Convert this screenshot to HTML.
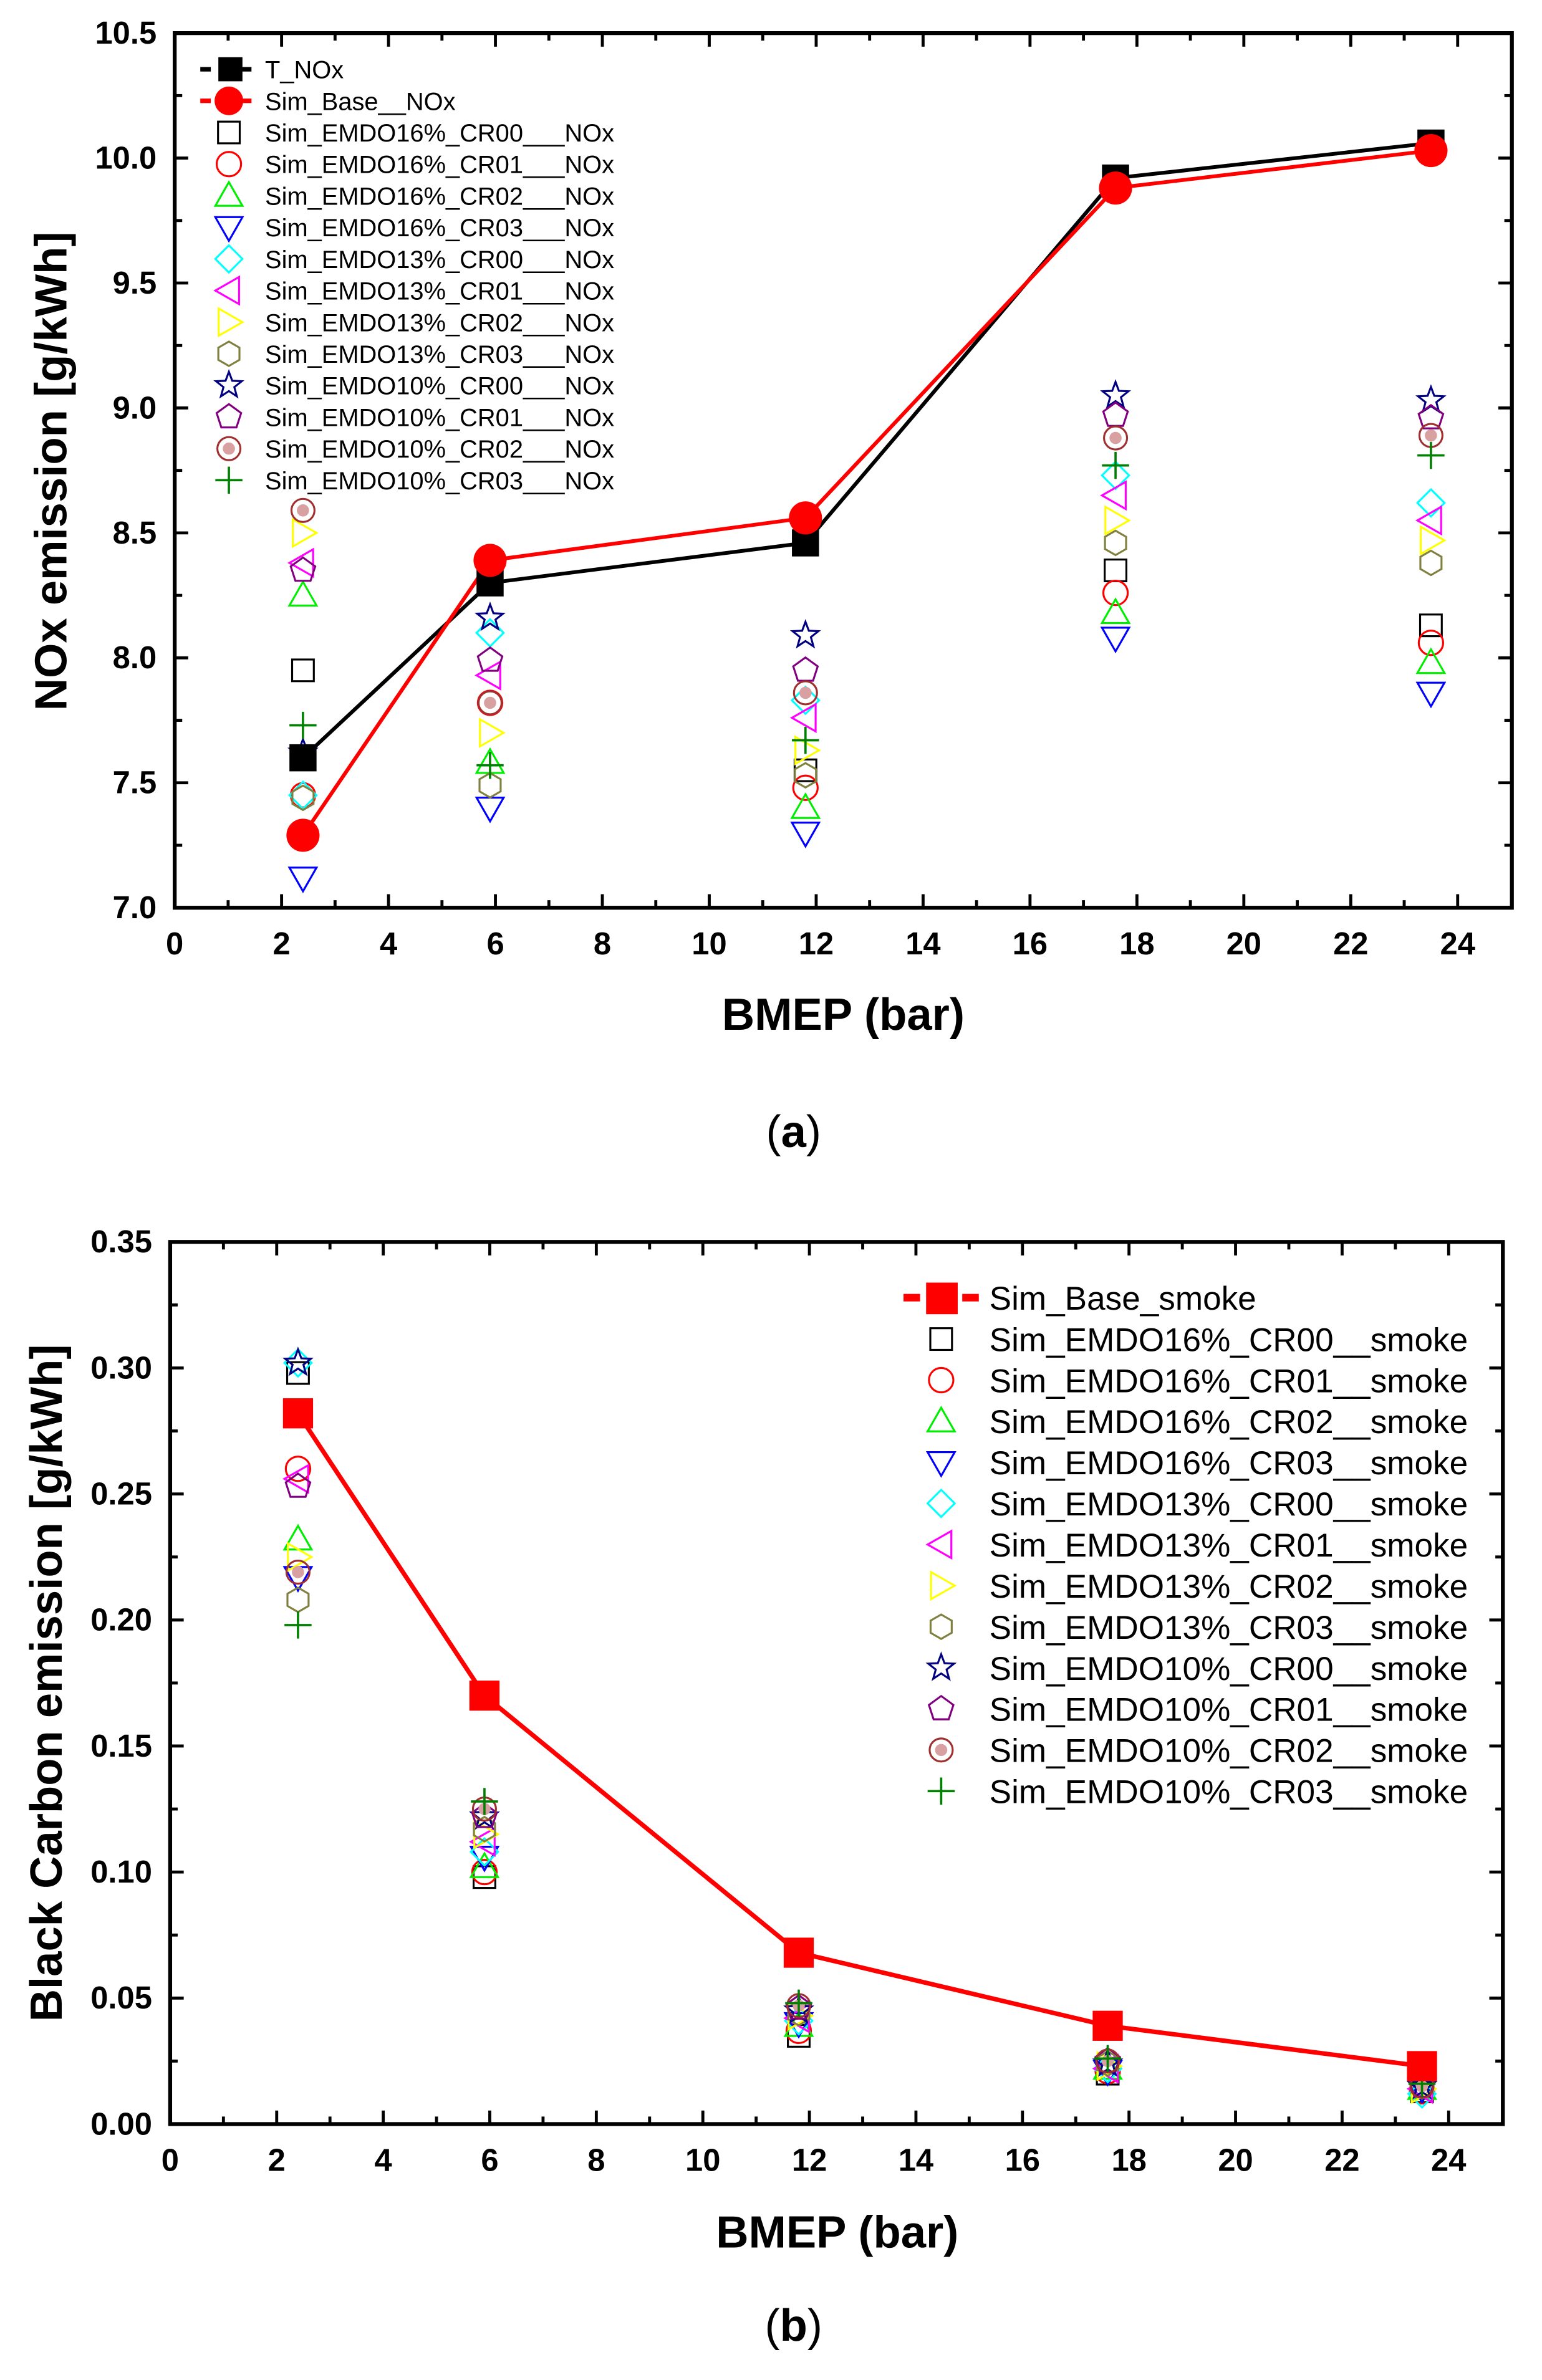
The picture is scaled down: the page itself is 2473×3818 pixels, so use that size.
<!DOCTYPE html>
<html><head><meta charset="utf-8">
<style>
html,body{margin:0;padding:0;background:#fff;}
svg{display:block;}
text{font-family:"Liberation Sans",Arial,sans-serif;}
</style></head>
<body>
<svg id="s" width="2473" height="3818" viewBox="0 0 1024 1581" preserveAspectRatio="none" xmlns="http://www.w3.org/2000/svg">
<rect width="1024" height="1581" fill="#fff"/>
<g id="g"></g>
</svg>
<script>
const NS="http://www.w3.org/2000/svg";
const G=document.getElementById('g');
function el(t,a,txt){const e=document.createElementNS(NS,t);for(const k in a)e.setAttribute(k,a[k]);if(txt!==undefined)e.textContent=txt;G.appendChild(e);return e;}
const COL={sq:'#000',ci:'#ff0000',up:'#00ee00',dn:'#0000ff',di:'#00ffff',lt:'#ff00ff',rt:'#ffff00',hx:'#808040',st:'#000080',pe:'#800080',dc:'#a03030',pl:'#008000'};
const ORDER=['sq','ci','up','dn','di','lt','rt','hx','st','pe','dc','pl'];
function marker(type,x,y,r,c,fill){
  r=r||9;const sw=1.3;const f=fill||'none';
  if(type==='sq'){el('rect',{x:x-r*0.8,y:y-r*0.8,width:r*1.6,height:r*1.6,fill:f,stroke:c,'stroke-width':sw});}
  else if(type==='ci'){el('circle',{cx:x,cy:y,r:r*0.9,fill:f,stroke:c,'stroke-width':sw});}
  else if(type==='dc'){el('circle',{cx:x,cy:y,r:r*0.85,fill:'none',stroke:c,'stroke-width':sw});el('circle',{cx:x,cy:y,r:r*0.45,fill:'#d8a0a0',stroke:'none'});}
  else if(type==='up'){el('polygon',{points:`${x},${y-r} ${x+r},${y+r*0.75} ${x-r},${y+r*0.75}`,fill:f,stroke:c,'stroke-width':sw});}
  else if(type==='dn'){el('polygon',{points:`${x},${y+r} ${x+r},${y-r*0.75} ${x-r},${y-r*0.75}`,fill:f,stroke:c,'stroke-width':sw});}
  else if(type==='lt'){el('polygon',{points:`${x-r},${y} ${x+r*0.75},${y-r} ${x+r*0.75},${y+r}`,fill:f,stroke:c,'stroke-width':sw});}
  else if(type==='rt'){el('polygon',{points:`${x+r},${y} ${x-r*0.75},${y-r} ${x-r*0.75},${y+r}`,fill:f,stroke:c,'stroke-width':sw});}
  else if(type==='di'){el('polygon',{points:`${x},${y-r} ${x+r},${y} ${x},${y+r} ${x-r},${y}`,fill:f,stroke:c,'stroke-width':sw});}
  else if(type==='hx'){let p=[];for(let i=0;i<6;i++){const a=Math.PI/3*i+Math.PI/6;p.push((x+r*0.9*Math.cos(a))+','+(y+r*0.9*Math.sin(a)));}el('polygon',{points:p.join(' '),fill:f,stroke:c,'stroke-width':sw});}
  else if(type==='pe'){let p=[];for(let i=0;i<5;i++){const a=-Math.PI/2+2*Math.PI/5*i;p.push((x+r*0.95*Math.cos(a))+','+(y+r*0.95*Math.sin(a)));}el('polygon',{points:p.join(' '),fill:f,stroke:c,'stroke-width':sw});}
  else if(type==='st'){let p=[];for(let i=0;i<10;i++){const a=-Math.PI/2+Math.PI/5*i;const rr=i%2?r*0.42:r;p.push((x+rr*Math.cos(a))+','+(y+rr*Math.sin(a)));}el('polygon',{points:p.join(' '),fill:f,stroke:c,'stroke-width':sw});}
  else if(type==='pl'){el('path',{d:`M${x-r} ${y}H${x+r}M${x} ${y-r}V${y+r}`,stroke:c,'stroke-width':1.5,fill:'none'});}
}
function axes(o){
  const {L,R,T,B,x0,x1,y0,y1,yminor,ydec}=o;
  const X=v=>L+(v-x0)/(x1-x0)*(o.XR-L);
  const Y=v=>B-(v-y0)/(y1-y0)*(B-T);
  el('rect',{x:L,y:T,width:R-L,height:B-T,fill:'none',stroke:'#000','stroke-width':2.6});
  for(let v=0;v<=24;v+=1){const x=X(v);const big=v%2===0;const len=big?9:5;
    el('line',{x1:x,y1:B,x2:x,y2:B-len,stroke:'#000','stroke-width':2});
    el('line',{x1:x,y1:T,x2:x,y2:T+len,stroke:'#000','stroke-width':2});
    if(big) el('text',{x:x,y:B+31,'font-size':21,'font-weight':'bold','text-anchor':'middle'},String(v));}
  for(let v=y0;v<=y1+1e-9;v+=yminor){const y=Y(v);const k=Math.round((v-y0)/yminor);const big=k%2===0;const len=big?9:5;
    el('line',{x1:L,y1:y,x2:L+len,y2:y,stroke:'#000','stroke-width':2});
    el('line',{x1:R,y1:y,x2:R-len,y2:y,stroke:'#000','stroke-width':2});
    if(big) el('text',{x:L-12,y:y+7,'font-size':21,'font-weight':'bold','text-anchor':'end'},v.toFixed(ydec));}
  return {X,Y};
}
// ---------- Panel (a)
let A=axes({L:116,R:1004,T:22,B:603,XR:968,x0:0,x1:24,y0:7,y1:10.5,yminor:0.25,ydec:1});
el('text',{x:560,y:684,'font-size':30,'font-weight':'bold','text-anchor':'middle'},'BMEP (bar)');
el('text',{x:0,y:0,'font-size':30,'font-weight':'bold','text-anchor':'middle',transform:'translate(44,313) rotate(-90)'},'NOx emission [g/kWh]');
const XS=[2.4,5.9,11.8,17.6,23.5];
const TN=[7.6,8.3,8.46,9.92,10.06], SB=[7.29,8.39,8.56,9.88,10.03];
const AD={sq:[7.95,8.3,7.55,8.35,8.13],ci:[7.45,7.82,7.48,8.26,8.06],up:[8.25,7.58,7.4,8.18,7.98],dn:[7.12,7.4,7.3,8.08,7.86],
di:[7.45,8.1,7.83,8.73,8.62],lt:[8.38,7.93,7.76,8.65,8.55],rt:[8.5,7.7,7.63,8.55,8.47],hx:[7.44,7.49,7.53,8.46,8.38],
st:[7.62,8.16,8.09,9.05,9.03],pe:[8.35,7.99,7.95,8.97,8.96],dc:[8.59,7.82,7.86,8.88,8.89],pl:[7.73,7.57,7.67,8.77,8.81]};
for(const k of ORDER){for(let i=0;i<5;i++)marker(k,A.X(XS[i]),A.Y(AD[k][i]),9,COL[k]);}
el('polyline',{points:XS.map((x,i)=>A.X(x)+','+A.Y(TN[i])).join(' '),fill:'none',stroke:'#000','stroke-width':2.5});
el('polyline',{points:XS.map((x,i)=>A.X(x)+','+A.Y(SB[i])).join(' '),fill:'none',stroke:'#f00','stroke-width':2.5});
for(let i=0;i<5;i++){const x=A.X(XS[i]);el('rect',{x:x-9,y:A.Y(TN[i])-9,width:18,height:18,fill:'#000'});}
for(let i=0;i<5;i++){el('circle',{cx:A.X(XS[i]),cy:A.Y(SB[i]),r:11,fill:'#f00'});}
const LA=['Sim_EMDO16%_CR00___NOx','Sim_EMDO16%_CR01___NOx','Sim_EMDO16%_CR02___NOx','Sim_EMDO16%_CR03___NOx','Sim_EMDO13%_CR00___NOx','Sim_EMDO13%_CR01___NOx','Sim_EMDO13%_CR02___NOx','Sim_EMDO13%_CR03___NOx','Sim_EMDO10%_CR00___NOx','Sim_EMDO10%_CR01___NOx','Sim_EMDO10%_CR02___NOx','Sim_EMDO10%_CR03___NOx'];
let ly=46;
el('line',{x1:133,y1:ly,x2:140,y2:ly,stroke:'#000','stroke-width':3});el('line',{x1:160,y1:ly,x2:167,y2:ly,stroke:'#000','stroke-width':3});
el('rect',{x:145,y:ly-8,width:16,height:16,fill:'#000'});
el('text',{x:176,y:ly+6,'font-size':16.5},'T_NOx');
ly=67;
el('line',{x1:133,y1:ly,x2:140,y2:ly,stroke:'#f00','stroke-width':3});el('line',{x1:160,y1:ly,x2:167,y2:ly,stroke:'#f00','stroke-width':3});
el('circle',{cx:152,cy:ly,r:9.5,fill:'#f00'});
el('text',{x:176,y:ly+6,'font-size':16.5},'Sim_Base__NOx');
ORDER.forEach((k,i)=>{const y=88+i*21;marker(k,152,y,9,COL[k]);el('text',{x:176,y:y+6,'font-size':16.5},LA[i]);});
const ca=el('text',{x:527,y:762,'font-size':30,'text-anchor':'middle','font-family':'Liberation Serif, serif'},'');
ca.innerHTML='(<tspan font-weight="bold">a</tspan>)';
// ---------- Panel (b)
let B=axes({L:113,R:998,T:825,B:1411,XR:962,x0:0,x1:24,y0:0,y1:0.35,yminor:0.025,ydec:2});
el('text',{x:556,y:1493,'font-size':30,'font-weight':'bold','text-anchor':'middle'},'BMEP (bar)');
el('text',{x:0,y:0,'font-size':30,'font-weight':'bold','text-anchor':'middle',transform:'translate(41,1118) rotate(-90)'},'Black Carbon emission [g/kWh]');
const BB=[0.282,0.17,0.068,0.039,0.023];
const BD={sq:[0.298,0.098,0.035,0.02,0.013],ci:[0.26,0.1,0.037,0.021,0.013],up:[0.232,0.102,0.039,0.022,0.014],dn:[0.217,0.106,0.04,0.021,0.014],
di:[0.302,0.108,0.041,0.022,0.012],lt:[0.256,0.112,0.042,0.022,0.014],rt:[0.225,0.115,0.043,0.023,0.014],hx:[0.208,0.117,0.044,0.024,0.015],
st:[0.302,0.122,0.045,0.024,0.015],pe:[0.253,0.122,0.046,0.025,0.015],dc:[0.219,0.125,0.047,0.025,0.015],pl:[0.198,0.128,0.048,0.026,0.016]};
for(const k of ORDER){for(let i=0;i<5;i++)marker(k,B.X(XS[i]),B.Y(BD[k][i]),9,COL[k]);}
el('polyline',{points:XS.map((x,i)=>B.X(x)+','+B.Y(BB[i])).join(' '),fill:'none',stroke:'#f00','stroke-width':3});
for(let i=0;i<5;i++){const x=B.X(XS[i]);el('rect',{x:x-10,y:B.Y(BB[i])-10,width:20,height:20,fill:'#f00'});}
el('line',{x1:600,y1:862,x2:611,y2:862,stroke:'#f00','stroke-width':5});el('line',{x1:639,y1:862,x2:650,y2:862,stroke:'#f00','stroke-width':5});
el('rect',{x:615,y:852,width:21,height:21,fill:'#f00'});
el('text',{x:657,y:870,'font-size':22},'Sim_Base_smoke');
ORDER.forEach((k,i)=>{const y=889.5+i*27.3;marker(k,625,y,9,COL[k]);el('text',{x:657,y:y+8,'font-size':22},LA[i].replace('___NOx','__smoke'));});
const cb=el('text',{x:527,y:1555,'font-size':30,'text-anchor':'middle','font-family':'Liberation Serif, serif'},'');
cb.innerHTML='(<tspan font-weight="bold">b</tspan>)';
</script>
</body></html>
